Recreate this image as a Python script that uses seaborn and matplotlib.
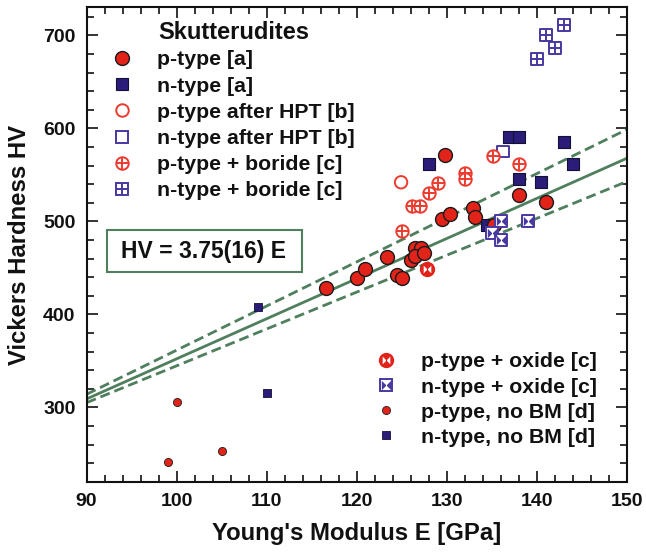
import matplotlib
matplotlib.use("Agg")
import matplotlib.pyplot as plt
import seaborn as sns
from matplotlib.path import Path
from matplotlib.lines import Line2D
from matplotlib.patches import Rectangle
from matplotlib.ticker import MultipleLocator

# ---- measured data: Young's modulus E [GPa] vs Vickers hardness HV ----
p_a_E = [116.6, 120.0, 120.9, 123.3, 124.4, 125.0, 126.0, 126.4, 127.1, 126.5, 127.4,
         129.4, 130.3, 129.8, 132.9, 133.1, 135.2, 138.0, 141.0]
p_a_HV = [428, 439, 449, 462, 442, 439, 458, 471, 471, 463, 466,
          502, 508, 571, 514, 505, 496, 528, 521]

n_a_E = [128.0, 136.9, 138.0, 143.0, 144.0, 138.0, 140.4, 134.4]
n_a_HV = [562, 591, 591, 585, 562, 545, 542, 496]

p_hpt_E = [124.9]
p_hpt_HV = [542]

n_hpt_E = [136.2]
n_hpt_HV = [575]

p_bor_E = [135.1, 138.0, 132.0, 132.0, 129.0, 128.0, 126.1, 127.0, 125.0]
p_bor_HV = [570, 562, 552, 546, 541, 530, 517, 517, 490]

n_bor_E = [140.0, 141.0, 142.0, 143.0]
n_bor_HV = [675, 700, 686, 711]

p_ox_E = [127.8]
p_ox_HV = [449]

n_ox_E = [136.0, 135.0, 136.0, 139.0]
n_ox_HV = [500, 487, 480, 500]

p_nobm_E = [100.0, 99.0, 105.0]
p_nobm_HV = [306, 241, 253]

n_nobm_E = [110.0, 109.0]
n_nobm_HV = [315, 408]

# linear fit with its confidence bounds
fit_E = [90, 150]
fit_HV = [309, 568]
fit_upper_HV = [314, 599]
fit_lower_HV = [305, 543]

legend_top = ["p-type [a]", "n-type [a]", "p-type after HPT [b]",
              "n-type after HPT [b]", "p-type + boride [c]", "n-type + boride [c]"]
legend_bottom = ["p-type + oxide [c]", "n-type + oxide [c]",
                 "p-type, no BM [d]", "n-type, no BM [d]"]

RED = "#e2231a"
NAVY = "#2a1c78"
HRED = "#ec3b2e"
VIOLET = "#4838a0"
GREEN = "#4f7f5d"
INK = "#111111"

sns.set_style("ticks")
plt.rcParams["font.family"] = ["Liberation Sans", "DejaVu Sans"]
plt.rcParams["font.weight"] = "bold"
plt.rcParams["axes.labelweight"] = "bold"
plt.rcParams["text.color"] = INK
plt.rcParams["axes.labelcolor"] = INK
plt.rcParams["xtick.color"] = INK
plt.rcParams["ytick.color"] = INK

# bow-tie marker (left and right triangles of a square)
bowtie = Path([(-1, -1), (0, 0), (-1, 1), (-1, -1), (1, -1), (0, 0), (1, 1), (1, -1)],
              [Path.MOVETO, Path.LINETO, Path.LINETO, Path.CLOSEPOLY,
               Path.MOVETO, Path.LINETO, Path.LINETO, Path.CLOSEPOLY])

fig = plt.figure(figsize=(6.46, 5.56), dpi=100)
ax = fig.add_axes([0.134, 0.1336, 0.837, 0.853])

# fit lines
dash = (0, (3.6, 1.8))
sns.lineplot(x=fit_E, y=fit_HV, ax=ax, color=GREEN, lw=2.0, zorder=2)
sns.lineplot(x=fit_E, y=fit_upper_HV, ax=ax, color=GREEN, lw=2.0, linestyle=dash, zorder=2)
sns.lineplot(x=fit_E, y=fit_lower_HV, ax=ax, color=GREEN, lw=2.0, linestyle=dash, zorder=2)


def scat(x, y, **kw):
    sns.scatterplot(x=x, y=y, ax=ax, legend=False, **kw)


# open / crossed markers
scat(p_hpt_E, p_hpt_HV, marker="o", s=80, facecolors="none", edgecolor=HRED, linewidth=1.4, zorder=3)
scat(n_hpt_E, n_hpt_HV, marker="s", s=70, facecolors="none", edgecolor=VIOLET, linewidth=1.4, zorder=3)
scat(p_bor_E, p_bor_HV, marker="o", s=80, facecolors="white", edgecolor=HRED, linewidth=1.4, zorder=3)
scat(p_bor_E, p_bor_HV, marker="+", s=80, color=HRED, linewidth=1.4, zorder=3)
scat(n_bor_E, n_bor_HV, marker="s", s=70, facecolors="white", edgecolor=VIOLET, linewidth=1.4, zorder=3)
scat(n_bor_E, n_bor_HV, marker="+", s=70, color=VIOLET, linewidth=1.4, zorder=3)

# filled markers
scat(n_a_E, n_a_HV, marker="s", s=80, color=NAVY, edgecolor="#111133", linewidth=0.8, zorder=4)
scat(p_a_E, p_a_HV, marker="o", s=100, color=RED, edgecolor="#1a1a1a", linewidth=1.0, zorder=4)
scat(p_ox_E, p_ox_HV, marker="o", s=100, color=RED, edgecolor=RED, linewidth=1.0, zorder=3)
scat(p_ox_E, p_ox_HV, marker=bowtie, s=30, color="white", edgecolor="white", linewidth=0, zorder=3)
scat(n_ox_E, n_ox_HV, marker="s", s=70, facecolors="white", edgecolor=VIOLET, linewidth=1.4, zorder=5)
scat(n_ox_E, n_ox_HV, marker=bowtie, s=45, color=VIOLET, edgecolor=VIOLET, linewidth=0, zorder=5)
scat(p_nobm_E, p_nobm_HV, marker="o", s=34, color=RED, edgecolor="#1a1a1a", linewidth=0.6, zorder=4)
scat(n_nobm_E, n_nobm_HV, marker="s", s=28, color=NAVY, edgecolor="#111133", linewidth=0.6, zorder=4)

ax.set_xlim(90, 150)
ax.set_ylim(220, 730)
ax.xaxis.set_major_locator(MultipleLocator(10))
ax.xaxis.set_minor_locator(MultipleLocator(2))
ax.yaxis.set_major_locator(MultipleLocator(100))
ax.yaxis.set_minor_locator(MultipleLocator(20))
ax.tick_params(which="both", direction="in", top=True, right=True, width=1.2, colors=INK)
ax.tick_params(which="major", length=8, labelsize=14, pad=8)
ax.tick_params(which="minor", length=5)
for sp in ax.spines.values():
    sp.set_linewidth(1.5)
    sp.set_color(INK)
for lab in ax.get_xticklabels() + ax.get_yticklabels():
    lab.set_fontweight("bold")

ax.set_xlabel("Young's Modulus E [GPa]", fontsize=17.2, fontweight="bold", labelpad=9)
ax.set_ylabel("Vickers Hardness HV", fontsize=17.2, fontweight="bold", labelpad=9)

# legends
h_top = [
    Line2D([], [], ls="", marker="o", ms=10, mfc=RED, mec="#1a1a1a", mew=1.0),
    Line2D([], [], ls="", marker="s", ms=9, mfc=NAVY, mec="#111133", mew=0.8),
    Line2D([], [], ls="", marker="o", ms=9, mfc="none", mec=HRED, mew=1.4),
    Line2D([], [], ls="", marker="s", ms=8.5, mfc="none", mec=VIOLET, mew=1.4),
    (Line2D([], [], ls="", marker="o", ms=9, mfc="none", mec=HRED, mew=1.4),
     Line2D([], [], ls="", marker="+", ms=9, mec=HRED, mew=1.4)),
    (Line2D([], [], ls="", marker="s", ms=8.5, mfc="none", mec=VIOLET, mew=1.4),
     Line2D([], [], ls="", marker="+", ms=8.5, mec=VIOLET, mew=1.4)),
]
h_bot = [
    (Line2D([], [], ls="", marker="o", ms=10, mfc=RED, mec=RED, mew=1.0),
     Line2D([], [], ls="", marker=bowtie, ms=5.5, mfc="white", mec="white", mew=0)),
    (Line2D([], [], ls="", marker="s", ms=8.5, mfc="white", mec=VIOLET, mew=1.4),
     Line2D([], [], ls="", marker=bowtie, ms=6.7, mfc=VIOLET, mec=VIOLET, mew=0)),
    Line2D([], [], ls="", marker="o", ms=5.8, mfc=RED, mec="#1a1a1a", mew=0.6),
    Line2D([], [], ls="", marker="s", ms=5.3, mfc=NAVY, mec="#111133", mew=0.6),
]
common = dict(frameon=False, fontsize=15.3, handlelength=1.2, handletextpad=1.05,
              borderpad=0, borderaxespad=0, loc="upper left")
leg1 = ax.legend(h_top, legend_top, bbox_to_anchor=(0.0425, 0.9097),
                 labelspacing=0.34, **common)
for t in leg1.get_texts():
    t.set_fontweight("bold")
ax.add_artist(leg1)
leg2 = ax.legend(h_bot, legend_bottom, bbox_to_anchor=(0.5296, 0.2726),
                 labelspacing=0.29, **common)
for t in leg2.get_texts():
    t.set_fontweight("bold")

ax.text(0.1319, 0.948, "Skutterudites", transform=ax.transAxes, fontsize=17,
        fontweight="bold", ha="left", va="center")

# fit equation box
ax.add_patch(Rectangle((0.0376, 0.442), 0.3607, 0.0885, transform=ax.transAxes,
                       facecolor="white", edgecolor=GREEN, lw=1.5, zorder=6))
ax.text(0.217, 0.4863, "HV = 3.75(16) E", transform=ax.transAxes, fontsize=16.5,
        fontweight="bold", ha="center", va="center", zorder=7)

fig.savefig("out.png", dpi=100)
